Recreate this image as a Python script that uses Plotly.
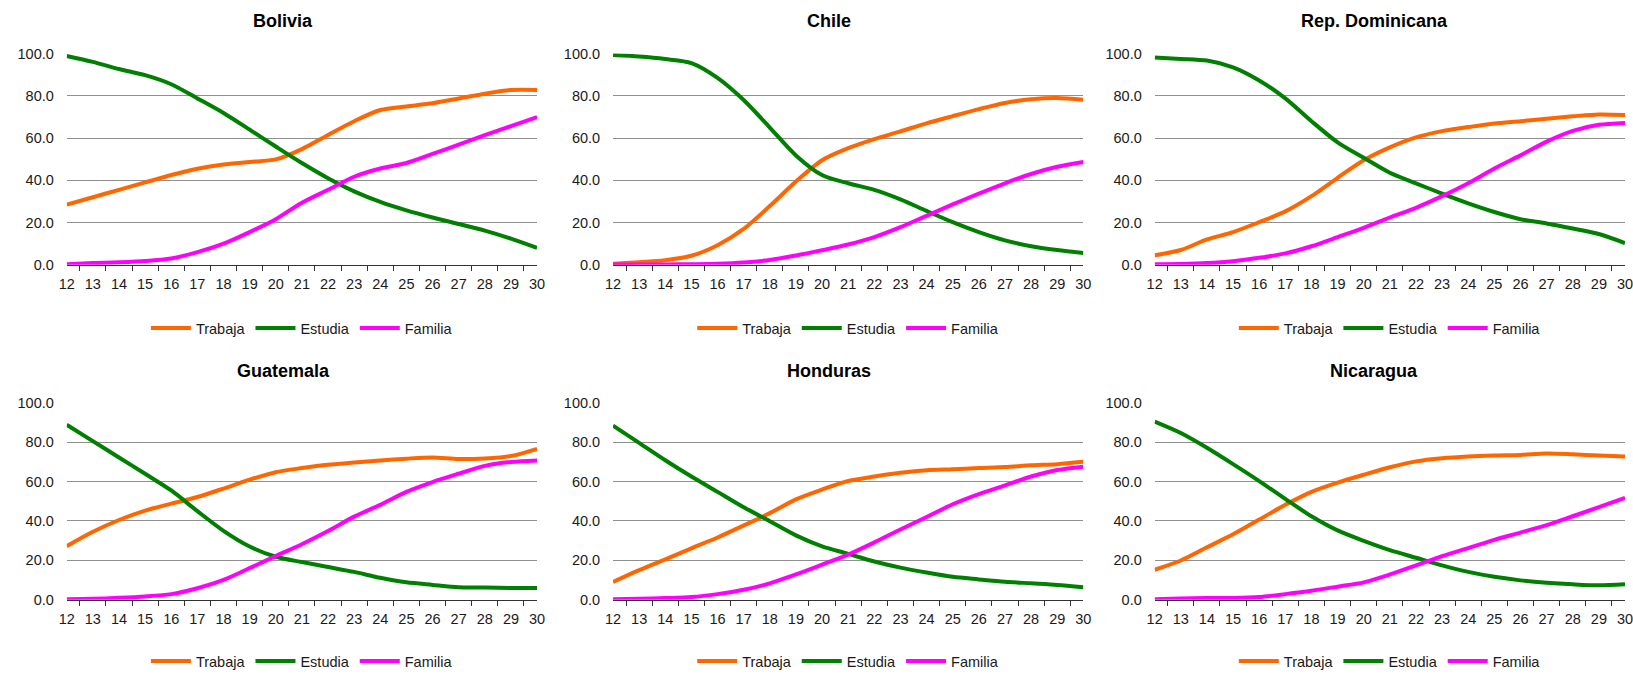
import plotly.graph_objects as go

# Edad (años)
ages = [str(a) for a in range(12, 31)]

series_names = ["Trabaja", "Estudia", "Familia"]
series_colors = ["#FF6600", "#008000", "#FF00FF"]

countries = ["Bolivia", "Chile", "Rep. Dominicana", "Guatemala", "Honduras", "Nicaragua"]

bolivia_trabaja = [28.5, 32.0, 35.5, 39.0, 42.5, 45.5, 47.5, 48.7, 49.9, 54.8, 61.5, 68.0, 73.3, 75.0, 76.5, 78.7, 81.0, 82.8, 82.8]
bolivia_estudia = [98.9, 96.1, 92.7, 89.8, 85.5, 78.8, 71.9, 64.0, 56.0, 48.2, 41.0, 34.8, 29.8, 25.8, 22.4, 19.3, 16.2, 12.4, 8.0]
bolivia_familia = [0.3, 0.8, 1.2, 1.8, 3.0, 6.0, 10.0, 15.5, 21.6, 29.4, 35.5, 41.7, 45.6, 48.2, 52.5, 56.9, 61.4, 65.7, 69.9]

chile_trabaja = [0.5, 1.2, 2.2, 4.3, 9.3, 17.0, 27.8, 39.4, 49.5, 55.2, 59.5, 63.2, 67.0, 70.4, 73.7, 76.6, 78.4, 79.0, 78.2]
chile_estudia = [99.3, 98.6, 97.4, 95.5, 88.5, 78.0, 65.0, 51.8, 42.5, 38.6, 35.5, 31.0, 25.5, 20.2, 15.5, 11.6, 8.8, 7.0, 5.6]
chile_familia = [0.2, 0.2, 0.2, 0.3, 0.5, 1.1, 2.3, 4.4, 6.9, 9.6, 13.1, 17.8, 23.2, 28.6, 33.7, 38.6, 43.0, 46.4, 48.7]

rdom_trabaja = [4.5, 7.0, 12.0, 15.5, 20.2, 25.3, 32.5, 41.2, 49.5, 55.6, 60.3, 63.3, 65.2, 66.9, 68.0, 69.2, 70.3, 71.2, 70.9]
rdom_estudia = [98.1, 97.5, 96.7, 93.5, 87.3, 78.8, 68.0, 58.0, 50.7, 43.6, 38.6, 33.7, 29.1, 25.0, 21.6, 19.6, 17.2, 14.6, 10.3]
rdom_familia = [0.3, 0.4, 0.8, 1.7, 3.3, 5.4, 8.8, 13.1, 17.5, 22.4, 27.0, 32.5, 38.6, 45.6, 51.8, 58.3, 63.4, 66.3, 67.2]

guatemala_trabaja = [27.2, 34.5, 40.5, 45.3, 48.8, 52.2, 56.5, 61.0, 64.8, 66.9, 68.6, 69.7, 70.8, 71.7, 72.3, 71.5, 71.8, 73.0, 76.7]
guatemala_estudia = [88.9, 80.6, 72.3, 64.0, 55.5, 45.0, 35.0, 27.0, 21.8, 19.1, 16.6, 14.1, 11.1, 8.8, 7.5, 6.3, 6.2, 5.9, 5.9]
guatemala_familia = [0.2, 0.4, 0.9, 1.6, 2.8, 5.8, 10.0, 16.0, 22.2, 28.2, 34.9, 42.2, 48.2, 54.8, 59.8, 64.0, 68.0, 70.0, 70.8]

honduras_trabaja = [9.0, 15.0, 20.5, 26.1, 31.6, 37.7, 44.0, 51.0, 56.0, 60.3, 62.6, 64.5, 65.8, 66.3, 66.9, 67.4, 68.3, 68.9, 70.1]
honduras_estudia = [88.5, 79.7, 70.9, 62.6, 54.8, 47.0, 39.9, 32.7, 27.1, 23.3, 19.4, 16.3, 13.8, 11.6, 10.3, 9.1, 8.3, 7.5, 6.3]
honduras_familia = [0.2, 0.4, 0.8, 1.3, 2.8, 5.0, 8.3, 12.8, 17.8, 22.9, 29.1, 35.7, 42.0, 48.5, 53.7, 58.1, 62.6, 65.9, 67.6]

nicaragua_trabaja = [15.2, 19.9, 26.6, 33.2, 40.7, 48.2, 54.8, 59.5, 63.5, 67.3, 70.3, 71.9, 72.8, 73.3, 73.6, 74.3, 73.9, 73.3, 72.8]
nicaragua_estudia = [90.5, 84.7, 77.2, 68.9, 60.3, 51.2, 42.4, 35.2, 29.9, 25.2, 21.3, 17.4, 14.1, 11.6, 9.8, 8.6, 7.8, 7.3, 7.8]
nicaragua_familia = [0.2, 0.6, 0.8, 0.8, 1.3, 2.8, 4.5, 6.6, 8.8, 12.8, 17.4, 22.1, 26.2, 30.4, 34.1, 37.9, 42.4, 47.0, 51.8]

country_series = [
    (bolivia_trabaja, bolivia_estudia, bolivia_familia),
    (chile_trabaja, chile_estudia, chile_familia),
    (rdom_trabaja, rdom_estudia, rdom_familia),
    (guatemala_trabaja, guatemala_estudia, guatemala_familia),
    (honduras_trabaja, honduras_estudia, honduras_familia),
    (nicaragua_trabaja, nicaragua_estudia, nicaragua_familia),
]

W, H = 1633, 680
FONT = "Liberation Sans, Arial, sans-serif"
TEXT = "#1a1a1a"

# panel geometry in pixels: (left, right) per column, (top, bottom) per row
cols = [(59.3, 534.3), (611.0, 1086.0), (1158.0, 1633.0)]
rows = [(46.7, 263.0), (404.5, 605.9)]
title_x = [278.0, 829.0, 1380.0]
title_y = [13.3, 371.8]
legend_y = [327.8, 668.8]

fig = go.Figure()
layout = dict(
    width=W, height=H,
    margin=dict(l=0, r=0, t=0, b=0),
    paper_bgcolor="white", plot_bgcolor="white",
    font=dict(family=FONT, size=14, color=TEXT),
    annotations=[],
)

for i, name in enumerate(countries):
    r, c = divmod(i, 3)
    n = i + 1
    xa = "xaxis" if n == 1 else f"xaxis{n}"
    ya = "yaxis" if n == 1 else f"yaxis{n}"
    xref = "x" if n == 1 else f"x{n}"
    yref = "y" if n == 1 else f"y{n}"
    lg = "legend" if n == 1 else f"legend{n}"
    left, right = cols[c]
    top, bottom = rows[r]

    for sname, color, vals in zip(series_names, series_colors, country_series[i]):
        fig.add_trace(go.Scatter(
            x=ages, y=vals, name=sname, mode="lines",
            line=dict(color=color, width=4, shape="spline", smoothing=0.8),
            xaxis=xref, yaxis=yref, legend=lg, hoverinfo="skip",
        ))

    layout[xa] = dict(
        domain=[left / W, right / W], anchor=yref, type="category",
        showgrid=False, showline=True, linecolor="#333333", linewidth=1,
        ticks="outside", ticklen=5, tickcolor="#333333", tickson="boundaries",
        tickfont=dict(size=14.5, color=TEXT), ticklabelstandoff=6,
        fixedrange=True,
    )
    layout[ya] = dict(
        domain=[1 - bottom / H, 1 - top / H], anchor=xref,
        range=[0, 100], tickvals=[0, 20, 40, 60, 80, 100],
        ticktext=["0.0", "20.0", "40.0", "60.0", "80.0", "100.0"],
        showgrid=True, gridcolor="#8f8f8f", gridwidth=1, zeroline=False,
        showline=False, ticks="outside", ticklen=9,
        tickcolor="rgba(0,0,0,0)", tickfont=dict(size=14.5, color=TEXT),
        fixedrange=True,
    )
    layout[lg] = dict(
        orientation="h", x=(left + right) / 2 / W, xanchor="center",
        y=1 - legend_y[r] / H, yanchor="middle",
        font=dict(size=14.5, color=TEXT), bgcolor="rgba(0,0,0,0)",
        itemwidth=40, tracegroupgap=0,
    )
    layout["annotations"].append(dict(
        text=f"<b>{name}</b>", x=title_x[c] / W, y=1 - title_y[r] / H,
        xref="paper", yref="paper", xanchor="center", yanchor="middle",
        showarrow=False, font=dict(family=FONT, size=18, color="#000000"),
    ))

fig.update_layout(**layout)
fig.write_html("out.html")
